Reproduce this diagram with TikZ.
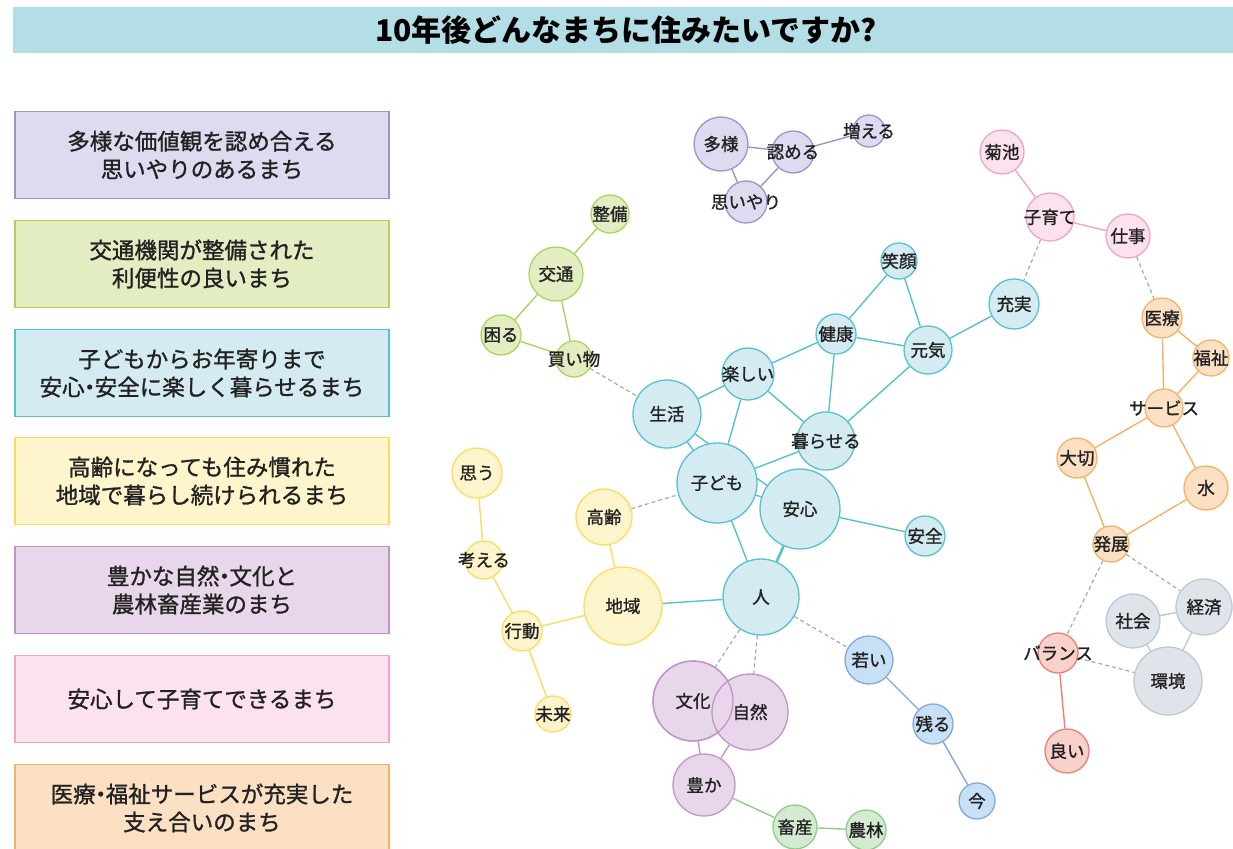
\documentclass[tikz,border=0pt]{standalone}
\usepackage{fontspec}
\setmainfont{Noto Sans CJK JP}[UprightFeatures={FakeBold=1.2}]
\usetikzlibrary{backgrounds}

\definecolor{titlebg}{HTML}{B3DEE6}
\definecolor{inktext}{HTML}{222222}
\definecolor{dashgray}{HTML}{A3ABB3}
\definecolor{purplefill}{HTML}{DCDBF0}\definecolor{purpleline}{HTML}{9D92CE}
\definecolor{greenfill}{HTML}{E2EEC2}\definecolor{greenline}{HTML}{ADD35E}
\definecolor{cyanfill}{HTML}{D3EBF1}\definecolor{cyanline}{HTML}{55C1D1}
\definecolor{yellowfill}{HTML}{FFF5CC}\definecolor{yellowline}{HTML}{FFDA5E}
\definecolor{mauvefill}{HTML}{E8D7EA}\definecolor{mauveline}{HTML}{C293C7}
\definecolor{pinkfill}{HTML}{FBE2EE}\definecolor{pinkline}{HTML}{F2A3C7}
\definecolor{orangefill}{HTML}{FCE0C3}\definecolor{orangeline}{HTML}{F5B265}
\definecolor{grayfill}{HTML}{DEE4EA}\definecolor{grayline}{HTML}{BCC8D2}
\definecolor{bluefill}{HTML}{C8E0F6}\definecolor{blueline}{HTML}{82A8DC}
\definecolor{redfill}{HTML}{F8D1CB}\definecolor{redline}{HTML}{EE7F72}
\definecolor{farmfill}{HTML}{D4EBD2}\definecolor{farmline}{HTML}{8FCC8A}

\tikzset{
	kw/.style={circle, inner sep=0pt, line width=1.3pt, draw=#1line, fill=#1fill,
		text=inktext, font=\fontsize{17.5}{17.5}\selectfont},
	link/.style={draw=#1line, line width=1.4pt},
	weak/.style={draw=dashgray, line width=1.2pt, dash pattern=on 4pt off 3pt},
	legend/.style={rectangle, line width=1.6pt, draw=#1line, fill=#1fill,
		minimum width=374, minimum height=87, align=center, text=inktext,
		font=\fontsize{22.5}{28}\selectfont},
}
\newcommand{\wrd}[1]{\makebox[0pt]{#1}}
\newcommand{\nakaguro}{\makebox[0.45em]{・}}

\begin{document}
\begin{tikzpicture}[x=1pt, y=-1pt]
		\useasboundingbox (0,0) rectangle (1233,848);
		% title
		\fill[titlebg] (13,7) rectangle (1233,53);
		\node (title) at (626,30) {\fontsize{30}{30}\selectfont\bfseries 10年後どんなまちに住みたいですか?};
		% legend
		\node[legend=purple] (leg1) at (202,155) {多様な価値観を認め合える\\思いやりのあるまち};
		\node[legend=green] (leg2) at (202,264) {交通機関が整備された\\利便性の良いまち};
		\node[legend=cyan] (leg3) at (202,373) {子どもからお年寄りまで\\安心\nakaguro 安全に楽しく暮らせるまち};
		\node[legend=yellow] (leg4) at (202,481) {高齢になっても住み慣れた\\地域で暮らし続けられるまち};
		\node[legend=mauve] (leg5) at (202,590) {豊かな自然\nakaguro 文化と\\農林畜産業のまち};
		\node[legend=pink] (leg6) at (202,699) {安心して子育てできるまち};
		\node[legend=orange] (leg7) at (202,808) {医療\nakaguro 福祉サービスが充実した\\支え合いのまち};
		% purple
		\node[kw=purple, minimum size=54] (tayou) at (721,144) {\wrd{多様}};
		\node[kw=purple, minimum size=42] (mitomeru) at (793,152) {\wrd{認める}};
		\node[kw=purple, minimum size=32] (fueru) at (869,131) {\wrd{増える}};
		\node[kw=purple, minimum size=42] (omoiyari) at (746,202) {\wrd{思いやり}};
		% green
		\node[kw=green, minimum size=38] (seibi) at (610,214) {\wrd{整備}};
		\node[kw=green, minimum size=54] (koutsuu) at (556,274) {\wrd{交通}};
		\node[kw=green, minimum size=40] (komaru) at (501,335) {\wrd{困る}};
		\node[kw=green, minimum size=36] (kaimono) at (574,359) {\wrd{買い物}};
		% cyan
		\node[kw=cyan, minimum size=36] (egao) at (899,261) {\wrd{笑顔}};
		\node[kw=cyan, minimum size=40] (kenkou) at (836,334) {\wrd{健康}};
		\node[kw=cyan, minimum size=48] (genki) at (928,350) {\wrd{元気}};
		\node[kw=cyan, minimum size=50] (juujitsu) at (1014,304) {\wrd{充実}};
		\node[kw=cyan, minimum size=52] (tanoshii) at (748,374) {\wrd{楽しい}};
		\node[kw=cyan, minimum size=68] (seikatsu) at (667,414) {\wrd{生活}};
		\node[kw=cyan, minimum size=58] (kuraseru) at (826,441) {\wrd{暮らせる}};
		\node[kw=cyan, minimum size=80] (kodomo) at (717,483) {\wrd{子ども}};
		\node[kw=cyan, minimum size=80] (anshin) at (800,509) {\wrd{安心}};
		\node[kw=cyan, minimum size=40] (anzen) at (925,536) {\wrd{安全}};
		\node[kw=cyan, minimum size=76] (hito) at (761,597) {\wrd{人}};
		% yellow
		\node[kw=yellow, minimum size=50] (omou) at (477,473) {\wrd{思う}};
		\node[kw=yellow, minimum size=38] (kangaeru) at (484,560) {\wrd{考える}};
		\node[kw=yellow, minimum size=40] (koudou) at (522,631) {\wrd{行動}};
		\node[kw=yellow, minimum size=36] (mirai) at (553,714) {\wrd{未来}};
		\node[kw=yellow, minimum size=56] (koureii) at (604,517) {\wrd{高齢}};
		\node[kw=yellow, minimum size=78] (chiiki) at (623,606) {\wrd{地域}};
		% mauve
		\node[kw=mauve, minimum size=80] (bunka) at (693,701) {\wrd{文化}};
		\node[kw=mauve, minimum size=76] (shizen) at (750,712) {\wrd{自然}};
		\node[kw=mauve, fill=none, minimum size=80] (bunkaedge) at (693,701) {};
		\node[kw=mauve, minimum size=62] (yutaka) at (704,785) {\wrd{豊か}};
		\node[kw=farm, minimum size=44] (chikusan) at (795,827) {\wrd{畜産}};
		\node[kw=farm, minimum size=40] (nourin) at (866,830) {\wrd{農林}};
		% blue
		\node[kw=blue, minimum size=48] (wakai) at (869,660) {\wrd{若い}};
		\node[kw=blue, minimum size=40] (nokoru) at (933,724) {\wrd{残る}};
		\node[kw=blue, minimum size=36] (ima) at (977,801) {\wrd{今}};
		% pink
		\node[kw=pink, minimum size=44] (kikuchi) at (1002,152) {\wrd{菊池}};
		\node[kw=pink, minimum size=48] (kosodate) at (1050,217) {\wrd{子育て}};
		\node[kw=pink, minimum size=44] (shigoto) at (1128,236) {\wrd{仕事}};
		% orange
		\node[kw=orange, minimum size=40] (iryou) at (1162,318) {\wrd{医療}};
		\node[kw=orange, minimum size=36] (fukushi) at (1211,358) {\wrd{福祉}};
		\node[kw=orange, minimum size=38] (saabisu) at (1164,408) {\wrd{サービス}};
		\node[kw=orange, minimum size=40] (taisetsu) at (1077,458) {\wrd{大切}};
		\node[kw=orange, minimum size=44] (mizu) at (1206,488) {\wrd{水}};
		\node[kw=orange, minimum size=36] (hatten) at (1111,544) {\wrd{発展}};
		% gray and red
		\node[kw=gray, minimum size=54] (shakai) at (1133,621) {\wrd{社会}};
		\node[kw=gray, minimum size=56] (keizai) at (1204,607) {\wrd{経済}};
		\node[kw=gray, minimum size=68] (kankyou) at (1168,681) {\wrd{環境}};
		\node[kw=red, minimum size=40] (baransu) at (1058,653) {\wrd{バランス}};
		\node[kw=red, minimum size=44] (yoi) at (1067,751) {\wrd{良い}};

		\begin{scope}[on background layer]
		\draw[link=purple] (tayou) -- (mitomeru) -- (fueru);
		\draw[link=purple] (tayou) -- (omoiyari) -- (mitomeru);
		\draw[link=green] (seibi) -- (koutsuu) -- (komaru) -- (kaimono) -- (koutsuu);
		\draw[link=cyan] (egao) -- (kenkou) -- (genki) -- (egao);
		\draw[link=cyan] (genki) -- (juujitsu);
		\draw[link=cyan] (kenkou) -- (tanoshii);
		\draw[link=cyan] (kenkou) -- (kuraseru) -- (genki);
		\draw[link=cyan] (tanoshii) -- (seikatsu);
		\draw[link=cyan] (tanoshii) -- (kodomo);
		\draw[link=cyan] (tanoshii) -- (kuraseru) -- (kodomo);
		\draw[link=cyan] (seikatsu) -- (kodomo) -- (anshin) -- (anzen);
		\draw[link=cyan] (seikatsu) -- (anshin);
		\draw[link=cyan] (kodomo) -- (hito);
		\draw[link=cyan, line width=2.6pt] (anshin) -- (hito);
		\draw[link=cyan] (hito) -- (chiiki);
		\draw[link=yellow] (omou) -- (kangaeru) -- (koudou) -- (mirai);
		\draw[link=yellow] (koudou) -- (chiiki) -- (koureii);
		\draw[link=mauve] (bunka) -- (yutaka) -- (shizen);
		\draw[link=farm] (yutaka) -- (chikusan) -- (nourin);
		\draw[link=blue] (wakai) -- (nokoru) -- (ima);
		\draw[link=pink] (kikuchi) -- (kosodate) -- (shigoto);
		\draw[link=orange] (iryou) -- (fukushi) -- (saabisu) -- (iryou);
		\draw[link=orange] (saabisu) -- (taisetsu) -- (hatten) -- (mizu) -- (saabisu);
		\draw[link=gray] (shakai) -- (keizai) -- (kankyou) -- (shakai);
		\draw[link=red] (baransu) -- (yoi);
		% dashed links between groups
		\draw[weak] (kaimono) -- (seikatsu);
		\draw[weak] (koureii) -- (kodomo);
		\draw[weak] (hito) -- (bunka);
		\draw[weak] (hito) -- (shizen);
		\draw[weak] (hito) -- (wakai);
		\draw[weak] (kosodate) -- (juujitsu);
		\draw[weak] (shigoto) -- (iryou);
		\draw[weak] (hatten) -- (keizai);
		\draw[weak] (hatten) -- (baransu) -- (kankyou);
		\end{scope}
		\end{tikzpicture}
\end{document}
